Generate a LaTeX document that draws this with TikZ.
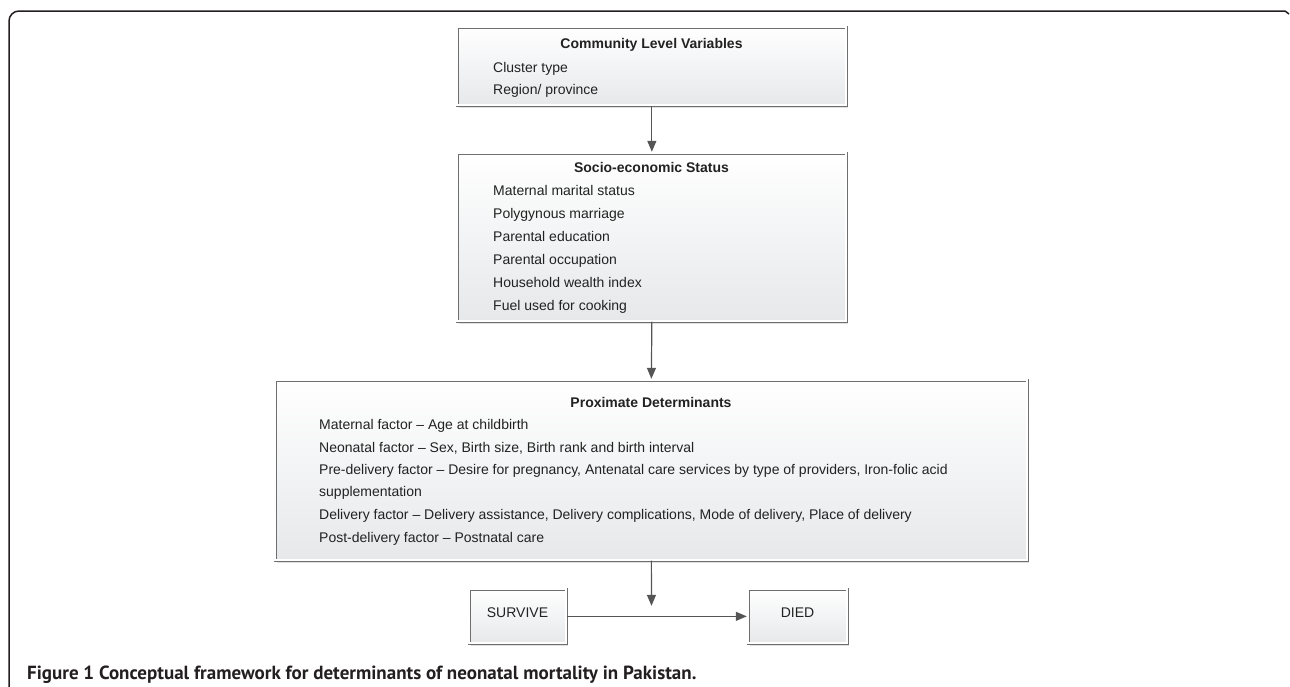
\documentclass[tikz,border=0pt]{standalone}
\usepackage{fontspec}
\setmainfont{Liberation Sans}
\newfontfamily\capfont{PT Sans}
\usetikzlibrary{arrows.meta,shadows}
\definecolor{boxline}{HTML}{6E6E6E}
\definecolor{boxbot}{HTML}{E6E8EA}
\definecolor{txt}{HTML}{222222}
\definecolor{arr}{HTML}{555555}
\definecolor{frame}{HTML}{231F20}
\begin{document}
\begin{tikzpicture}[x=1pt,y=-1pt,
  box/.style={draw=boxline, line width=0.7pt, double=white, double distance=2pt,
    top color=white, bottom color=boxbot,
    drop shadow={shadow xshift=2pt,shadow yshift=-2.5pt,fill=black,opacity=0.12},
    inner sep=0pt, anchor=north west},
  ttl/.style={font=\fontsize{14}{16}\selectfont\bfseries, text=txt, anchor=base, inner sep=0pt},
  itm/.style={font=\fontsize{14}{16}\selectfont, text=txt, anchor=base west, inner sep=0pt},
  conn/.style={draw=arr, line width=1.2pt, -{Triangle[length=11pt,width=9pt]}, shorten >=1.2pt},
  framel/.style={draw=frame, line width=1.5pt}]
\useasboundingbox (0,0) rectangle (1290,686);
% outer frame
\draw[framel, rounded corners=10pt] (9,690) -- (9,11) -- (1285,11);
\draw[framel] (1285,11) -- (1289,14);
% boxes
\node[box, minimum width=389pt, minimum height=78pt] (b1) at (457,27) {};
\node[box, minimum width=389pt, minimum height=168pt] (b2) at (457,153) {};
\node[box, minimum width=752pt, minimum height=180pt] (b3) at (275,380) {};
\node[box, minimum width=97pt, minimum height=54pt] (sv) at (469,589) {};
\node[box, minimum width=99pt, minimum height=54pt] (dd) at (748,589) {};
% box 1 text
\node[ttl] (t1) at (651.5,48) {Community Level Variables};
\node[itm] (c1) at (493,72) {Cluster type};
\node[itm] (c2) at (493,94) {Region/ province};
% box 2 text
\node[ttl] (t2) at (651.5,172) {Socio-economic Status};
\node[itm] (s1) at (493,195) {Maternal marital status};
\node[itm] (s2) at (493,218) {Polygynous marriage};
\node[itm] (s3) at (493,241) {Parental education};
\node[itm] (s4) at (493,264) {Parental occupation};
\node[itm] (s5) at (493,287) {Household wealth index};
\node[itm] (s6) at (493,310) {Fuel used for cooking};
% box 3 text
\node[ttl] (t3) at (651,407) {Proximate Determinants};
\node[itm] (p1) at (319,429) {Maternal factor -- Age at childbirth};
\node[itm] (p2) at (319,452) {Neonatal factor -- Sex, Birth size, Birth rank and birth interval};
\node[itm] (p3) at (319,474) {Pre-delivery factor -- Desire for pregnancy, Antenatal care services by type of providers, Iron-folic acid};
\node[itm] (p4) at (319,496) {supplementation};
\node[itm] (p5) at (319,519) {Delivery factor -- Delivery assistance, Delivery complications, Mode of delivery, Place of delivery};
\node[itm] (p6) at (319,542) {Post-delivery factor -- Postnatal care};
% outcome texts
\node[font=\fontsize{14}{16}\selectfont, text=txt, anchor=base, inner sep=0pt] (svt) at (517.5,617) {SURVIVE};
\node[font=\fontsize{14}{16}\selectfont, text=txt, anchor=base, inner sep=0pt] (ddt) at (797.5,617) {DIED};
% connectors
\coordinate (mid) at (651.5,607);
\draw[conn] (b1.south) -- (b2.north);
\draw[conn] (b2.south) -- (b3.north);
\draw[conn] (b3.south) -- (mid);
\draw[conn] (sv.east) -- (dd.west);
% caption
\node[font=\capfont\bfseries\fontsize{19}{22}\selectfont, text=frame, anchor=base west, inner sep=0pt] (cap) at (27,679)
  {Figure 1 Conceptual framework for determinants of neonatal mortality in Pakistan.};
\end{tikzpicture}
\end{document}
